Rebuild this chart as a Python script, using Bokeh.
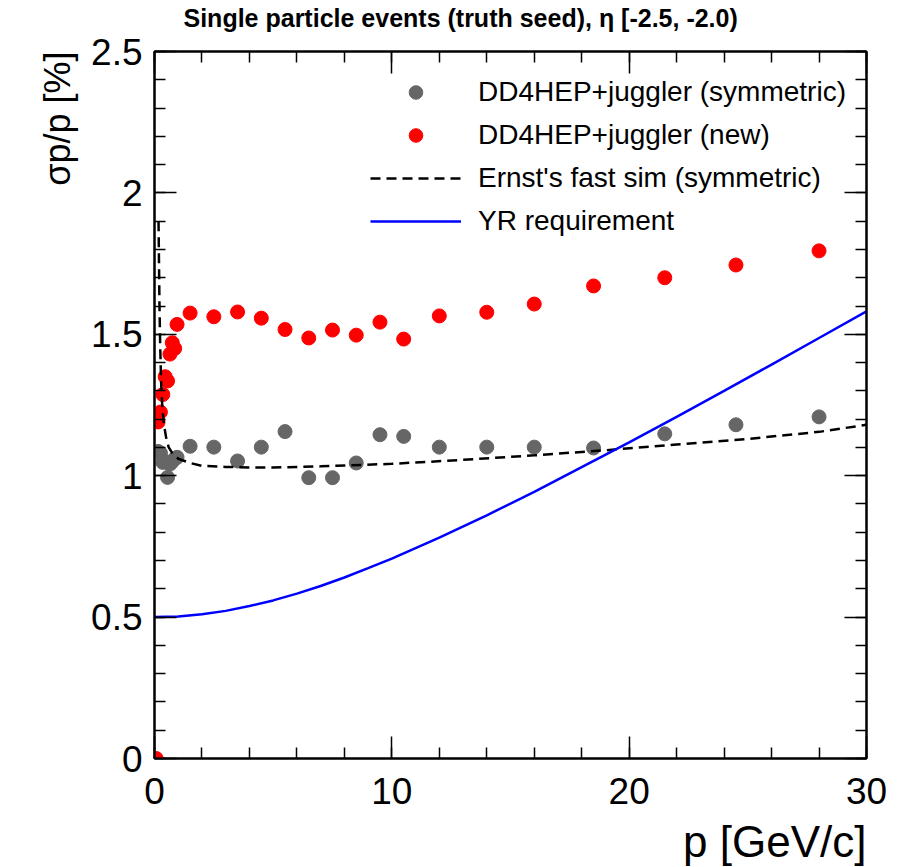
import math
from bokeh.plotting import figure
from bokeh.models import (Range1d, LinearAxis, SingleIntervalTicker, NumeralTickFormatter,
                          CustomJSTickFormatter, Legend, LegendItem, Title)
from bokeh.embed import file_html
from bokeh.resources import INLINE

# ---------------- data ----------------
p_sym = [0.15, 0.25, 0.35, 0.45, 0.55, 0.65, 0.75, 0.85, 0.95,
         1.5, 2.5, 3.5, 4.5, 5.5, 6.5, 7.5, 8.5, 9.5, 10.5, 12, 14, 16, 18.5, 21.5, 24.5, 28]
res_sym = [1.086, 1.08, 1.047, 1.05, 0.994, 1.041, 1.05, 1.06, 1.065,
           1.104, 1.101, 1.052, 1.101, 1.156, 0.993, 0.993, 1.045, 1.145, 1.139,
           1.101, 1.101, 1.101, 1.098, 1.148, 1.180, 1.208]

p_new = [0.07, 0.15, 0.25, 0.35, 0.45, 0.55, 0.65, 0.75, 0.85, 0.95,
         1.5, 2.5, 3.5, 4.5, 5.5, 6.5, 7.5, 8.5, 9.5, 10.5, 12, 14, 16, 18.5, 21.5, 24.5, 28]
res_new = [0.0, 1.19, 1.225, 1.287, 1.35, 1.335, 1.43, 1.47, 1.45, 1.535,
           1.575, 1.562, 1.579, 1.557, 1.517, 1.487, 1.515, 1.497, 1.543, 1.483,
           1.565, 1.578, 1.607, 1.671, 1.700, 1.745, 1.795]

p_fast = [0.17, 0.19, 0.21, 0.24, 0.28, 0.33, 0.4, 0.5, 0.6, 0.75, 1.0, 1.5, 2, 3, 4, 5,
          7, 10, 13, 16, 19, 22, 25, 28, 30]
res_fast = [1.90, 1.75, 1.60, 1.46, 1.33, 1.24, 1.18, 1.13, 1.10, 1.08, 1.06, 1.045, 1.035,
            1.031, 1.029, 1.029, 1.033, 1.042, 1.056, 1.072, 1.09, 1.11, 1.13, 1.155, 1.18]

p_yr = [0, 1, 2, 3, 4, 5, 6, 7, 8, 9, 10, 12, 14, 16, 18, 20, 22, 24, 26, 28, 30]
res_yr = [0.500, 0.502, 0.510, 0.522, 0.539, 0.559, 0.583, 0.610, 0.640, 0.673, 0.707,
          0.781, 0.860, 0.943, 1.030, 1.118, 1.208, 1.300, 1.393, 1.487, 1.581]

labels = ["DD4HEP+juggler (symmetric)", "DD4HEP+juggler (new)",
          "Ernst's fast sim (symmetric)", "YR requirement"]
title_text = "Single particle events (truth seed), \u03b7 [-2.5, -2.0)"
x_title = "p [GeV/c]"
y_title = "\u03c3p/p [%]"

FONT = "Liberation Sans"

# ---------------- figure ----------------
W, H = 900, 867
p = figure(width=W, height=H, output_backend="svg", toolbar_location=None,
           x_range=Range1d(0, 30), y_range=Range1d(0, 2.5),
           x_axis_type=None, y_axis_type=None,
           min_border_left=154, min_border_right=34, min_border_top=51, min_border_bottom=109)
p.grid.visible = False
p.outline_line_color = "black"
p.outline_line_width = 2
p.background_fill_color = "white"
p.border_fill_color = "white"


def style_axis(ax, show_labels, size):
    ax.axis_line_color = "black"
    ax.axis_line_width = 2
    ax.major_tick_in = 22
    ax.major_tick_out = 0
    ax.minor_tick_in = 11
    ax.minor_tick_out = 0
    ax.major_tick_line_width = 1.5
    ax.minor_tick_line_width = 1.5
    ax.major_label_text_font = FONT
    ax.major_label_text_color = "black"
    if show_labels:
        ax.major_label_text_font_size = size
    else:
        ax.formatter = CustomJSTickFormatter(code="return ''")
        ax.major_label_text_font_size = "0px"
        ax.major_label_standoff = 0


def spacer_axis(gap):
    # invisible axis whose (uncoloured) outward ticks only reserve space
    return LinearAxis(ticker=SingleIntervalTicker(interval=10, num_minor_ticks=0),
                      formatter=CustomJSTickFormatter(code="return ''"),
                      axis_line_color=None, major_tick_line_color=None,
                      minor_tick_line_color=None, major_tick_in=0, major_tick_out=gap,
                      minor_tick_in=0, minor_tick_out=0, major_label_standoff=0,
                      major_label_text_font_size="0px")


xb = LinearAxis(ticker=SingleIntervalTicker(interval=10, num_minor_ticks=5))
style_axis(xb, True, "37px")
xb.major_label_standoff = 19
p.add_layout(xb, "below")
p.add_layout(spacer_axis(8), "below")

xt = LinearAxis(ticker=SingleIntervalTicker(interval=10, num_minor_ticks=5))
style_axis(xt, False, "0px")
p.add_layout(xt, "above")
p.add_layout(spacer_axis(20), "above")

yl = LinearAxis(ticker=SingleIntervalTicker(interval=0.5, num_minor_ticks=5),
                formatter=NumeralTickFormatter(format="0.[0]"))
style_axis(yl, True, "37px")
yl.major_label_standoff = 12
p.add_layout(yl, "left")

yr = LinearAxis(ticker=SingleIntervalTicker(interval=0.5, num_minor_ticks=5))
style_axis(yr, False, "0px")
p.add_layout(yr, "right")

# ---------------- data renderers ----------------
r_sym = p.scatter(p_sym, res_sym, marker="circle", size=14, fill_color="#666666", line_color="#666666")
r_new = p.scatter(p_new, res_new, marker="circle", size=14, fill_color="#ff0000", line_color="#ff0000")
r_fast = p.line(p_fast, res_fast, line_color="black", line_width=2.5, line_dash="10 6")
r_yr = p.line(p_yr, res_yr, line_color="#0000ff", line_width=2.5)

legend = Legend(items=[LegendItem(label=labels[0], renderers=[r_sym]),
                       LegendItem(label=labels[1], renderers=[r_new]),
                       LegendItem(label=labels[2], renderers=[r_fast]),
                       LegendItem(label=labels[3], renderers=[r_yr])],
                location=(216, 520), border_line_color=None, background_fill_alpha=0,
                padding=0, margin=0, spacing=9, glyph_width=91, glyph_height=34,
                label_height=34, label_standoff=17, label_text_font=FONT,
                label_text_font_size="28px", label_text_color="black")
p.add_layout(legend)

# ---------------- titles ----------------
p.add_layout(Title(text=title_text, align="left", offset=29, standoff=0,
                   text_font=FONT, text_font_size="25px", text_font_style="bold",
                   text_color="black"), "above")
p.add_layout(Title(text=x_title, align="right", standoff=0,
                   text_font=FONT, text_font_size="44px", text_font_style="normal",
                   text_color="black"), "below")
p.add_layout(Title(text=y_title, align="right", standoff=21,
                   text_font=FONT, text_font_size="36px", text_font_style="normal",
                   text_color="black"), "left")

open("out.html", "w").write(file_html(p, INLINE))
